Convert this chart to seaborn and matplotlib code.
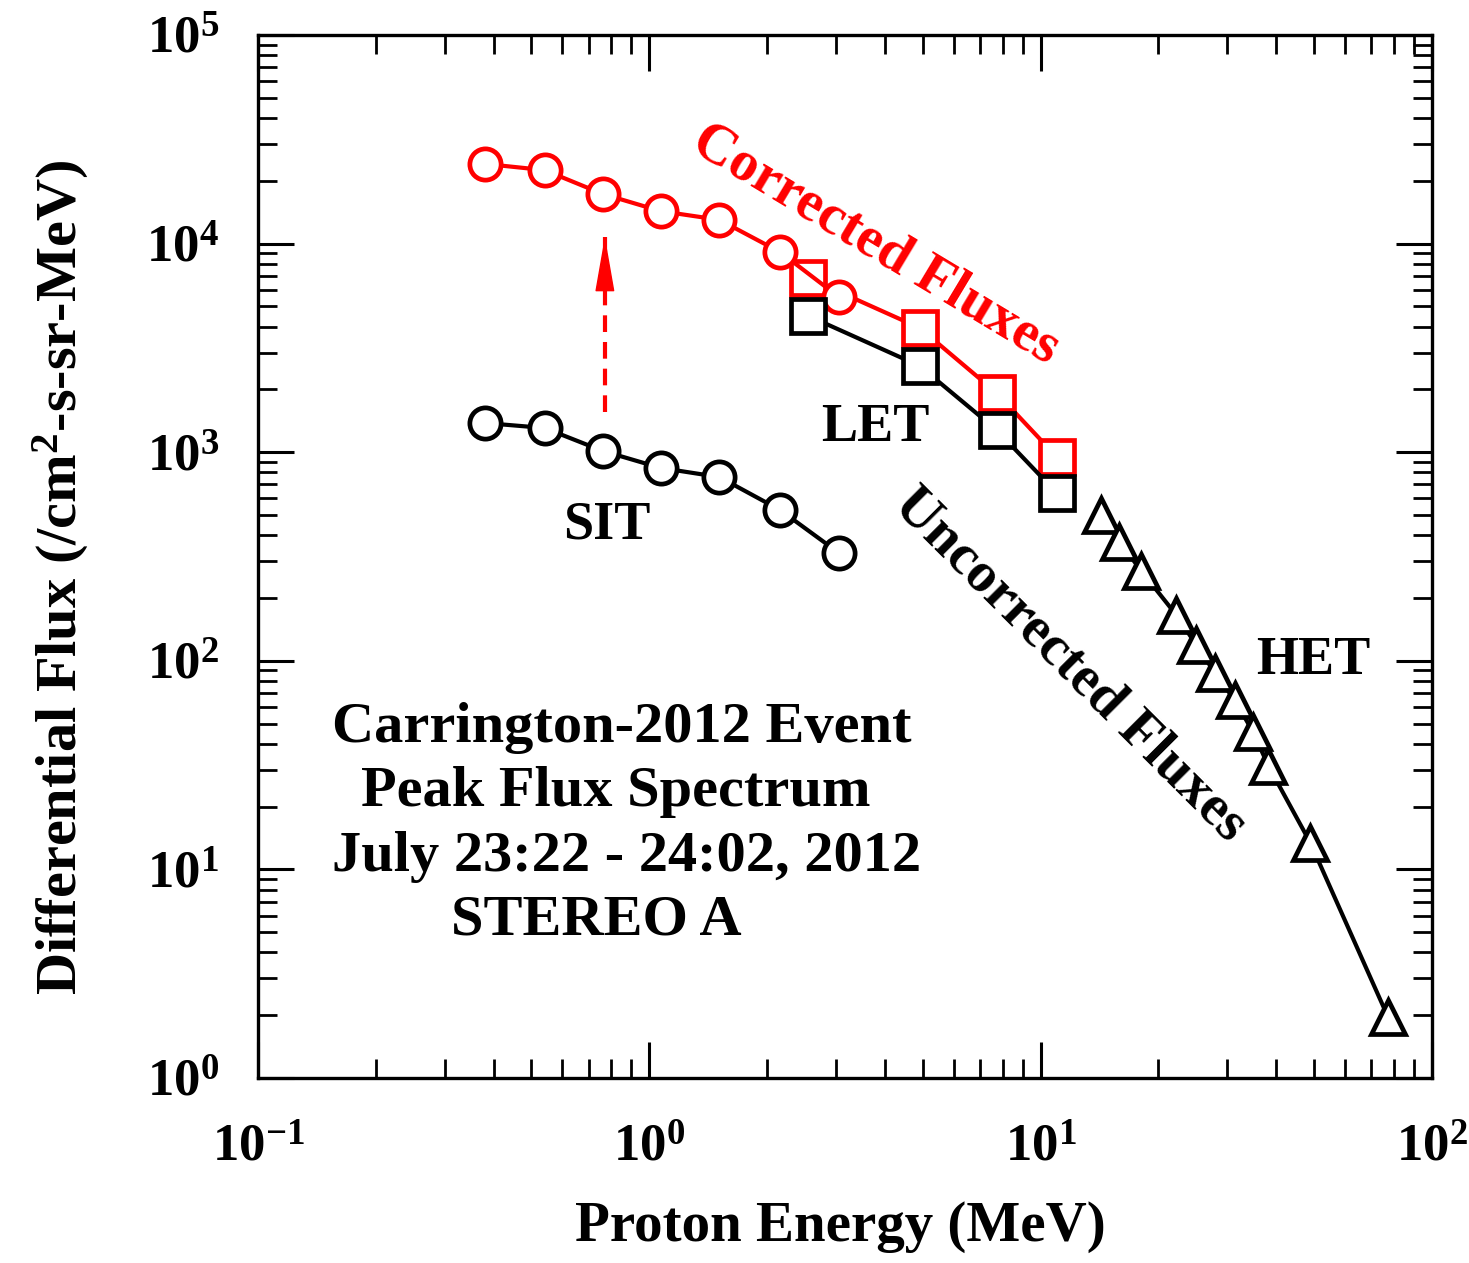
import matplotlib
matplotlib.use("Agg")
import matplotlib.pyplot as plt
import numpy as np
import pandas as pd
import seaborn as sns
from matplotlib.ticker import FixedLocator, FixedFormatter, LogLocator, NullFormatter

# Peak proton flux spectrum, STEREO A, July 23-24 2012
sit_energy = [0.38, 0.54, 0.76, 1.07, 1.51, 2.16, 3.05]
sit_flux = [1380, 1306, 1014, 840, 760, 528, 329]
sit_flux_corrected = [24100, 22500, 17300, 14300, 13000, 9100, 5550]

let_energy = [2.55, 4.91, 7.72, 11.0]
let_flux = [4500, 2590, 1277, 637]
let_flux_corrected = [6840, 3940, 1923, 948]

het_energy = [14.3, 15.9, 18.1, 22.2, 25.0, 27.9, 31.3, 34.9, 38.2, 48.9, 77.2]
het_flux = [500, 372, 269, 166, 119, 87.4, 64.9, 45.6, 31.3, 13.4, 1.96]

# correction arrow (energy, from flux, to flux)
arrow_energy = 0.77
arrow_from = 1550
arrow_to = 10800

xtick_values = [0.1, 1, 10, 100]
xtick_labels = [r"$\mathbf{10^{-1}}$", r"$\mathbf{10^{0}}$", r"$\mathbf{10^{1}}$", r"$\mathbf{10^{2}}$"]
ytick_values = [1, 10, 100, 1000, 1e4, 1e5]
ytick_labels = [r"$\mathbf{10^{0}}$", r"$\mathbf{10^{1}}$", r"$\mathbf{10^{2}}$",
                r"$\mathbf{10^{3}}$", r"$\mathbf{10^{4}}$", r"$\mathbf{10^{5}}$"]

sns.set_theme(style="white")
plt.rcParams["font.family"] = ["Liberation Serif", "DejaVu Serif"]
plt.rcParams["font.weight"] = "bold"
plt.rcParams["text.color"] = "black"
plt.rcParams["axes.labelcolor"] = "black"
plt.rcParams["xtick.color"] = "black"
plt.rcParams["ytick.color"] = "black"
plt.rcParams["mathtext.fontset"] = "custom"
plt.rcParams["mathtext.rm"] = "Liberation Serif:bold"
plt.rcParams["mathtext.bf"] = "Liberation Serif:bold"
plt.rcParams["mathtext.it"] = "Liberation Serif:bold:italic"

fig = plt.figure(figsize=(14.69, 12.63), dpi=100)
ax = fig.add_axes([0.1756, 0.1465, 0.7992, 0.8258])
ax.set_xscale("log")
ax.set_yscale("log")

RED = "#ff0000"
LW = 3.0
MEW = 3.4


def series(x, y, color, marker, size):
    df = pd.DataFrame({"energy": x, "flux": y})
    sns.lineplot(data=df, x="energy", y="flux", ax=ax, color=color, lw=LW,
                 marker=marker, markersize=size, markerfacecolor="white",
                 markeredgecolor=color, markeredgewidth=MEW, sort=False,
                 legend=False)


# corrected fluxes (red), then uncorrected (black) on top
series(let_energy, let_flux_corrected, RED, "s", 25)
series(sit_energy, sit_flux_corrected, RED, "o", 22.5)
series(sit_energy, sit_flux, "black", "o", 22.5)
series(let_energy, let_flux, "black", "s", 25)
series(het_energy, het_flux, "black", "^", 24)

# dashed shaft of the correction arrow, solid head on top
ax.plot([arrow_energy, arrow_energy], [arrow_from, arrow_to], color=RED,
        lw=3.0, linestyle=(0, (4, 2.4)), solid_capstyle="butt",
        dash_capstyle="butt")
ax.annotate("", xy=(arrow_energy, arrow_to), xytext=(0, -36),
            textcoords="offset points",
            arrowprops=dict(arrowstyle="-|>,head_length=2.4,head_width=0.42",
                            color=RED, lw=1.0, mutation_scale=15,
                            shrinkA=0, shrinkB=0))

ax.set_xlim(0.1, 100)
ax.set_ylim(1, 1e5)

ax.xaxis.set_major_locator(FixedLocator(xtick_values))
ax.xaxis.set_major_formatter(FixedFormatter(xtick_labels))
ax.yaxis.set_major_locator(FixedLocator(ytick_values))
ax.yaxis.set_major_formatter(FixedFormatter(ytick_labels))
ax.xaxis.set_minor_locator(LogLocator(base=10, subs=np.arange(2, 10), numticks=20))
ax.yaxis.set_minor_locator(LogLocator(base=10, subs=np.arange(2, 10), numticks=20))
ax.xaxis.set_minor_formatter(NullFormatter())
ax.yaxis.set_minor_formatter(NullFormatter())

ax.tick_params(which="both", direction="in", top=True, right=True,
               bottom=True, left=True, color="black")
ax.tick_params(which="major", length=26, width=2.2, labelsize=38, pad=28)
ax.tick_params(axis="x", which="major", pad=33)
ax.tick_params(which="minor", length=14, width=2.0)
for sp in ax.spines.values():
    sp.set_linewidth(2.4)
    sp.set_color("black")
    sp.set_visible(True)

ax.set_xlabel("Proton Energy (MeV)", fontsize=41, fontweight="bold")
ax.set_ylabel(r"Differential Flux (/cm$^{\mathbf{2}}$-s-sr-MeV)", fontsize=42,
              fontweight="bold")
ax.xaxis.set_label_coords(0.496, -0.118)
ax.yaxis.set_label_coords(-0.142, 0.48)

# instrument labels
ax.text(0.297, 0.530, "SIT", transform=ax.transAxes, fontsize=39,
        fontweight="bold", ha="center", va="center")
ax.text(0.526, 0.623, "LET", transform=ax.transAxes, fontsize=39,
        fontweight="bold", ha="center", va="center")
ax.text(0.899, 0.400, "HET", transform=ax.transAxes, fontsize=39,
        fontweight="bold", ha="center", va="center")

ax.text(0.526, 0.799, "Corrected Fluxes", transform=ax.transAxes, fontsize=41,
        fontweight="bold", color=RED, ha="center", va="center",
        rotation=-31, rotation_mode="anchor")
ax.text(0.692, 0.396, "Uncorrected Fluxes", transform=ax.transAxes, fontsize=41,
        fontweight="bold", color="black", ha="center", va="center",
        rotation=-45, rotation_mode="anchor")

# event annotation block
info_lines = ["Carrington-2012 Event", "Peak Flux Spectrum",
              "July 23:22 - 24:02, 2012", "STEREO A"]
info_x = [0.310, 0.305, 0.314, 0.288]
info_y = [0.336, 0.274, 0.212, 0.151]
for txt, xx, yy in zip(info_lines, info_x, info_y):
    ax.text(xx, yy, txt, transform=ax.transAxes, fontsize=42,
            fontweight="bold", ha="center", va="center")

fig.savefig("out.png", dpi=100, facecolor="white")
